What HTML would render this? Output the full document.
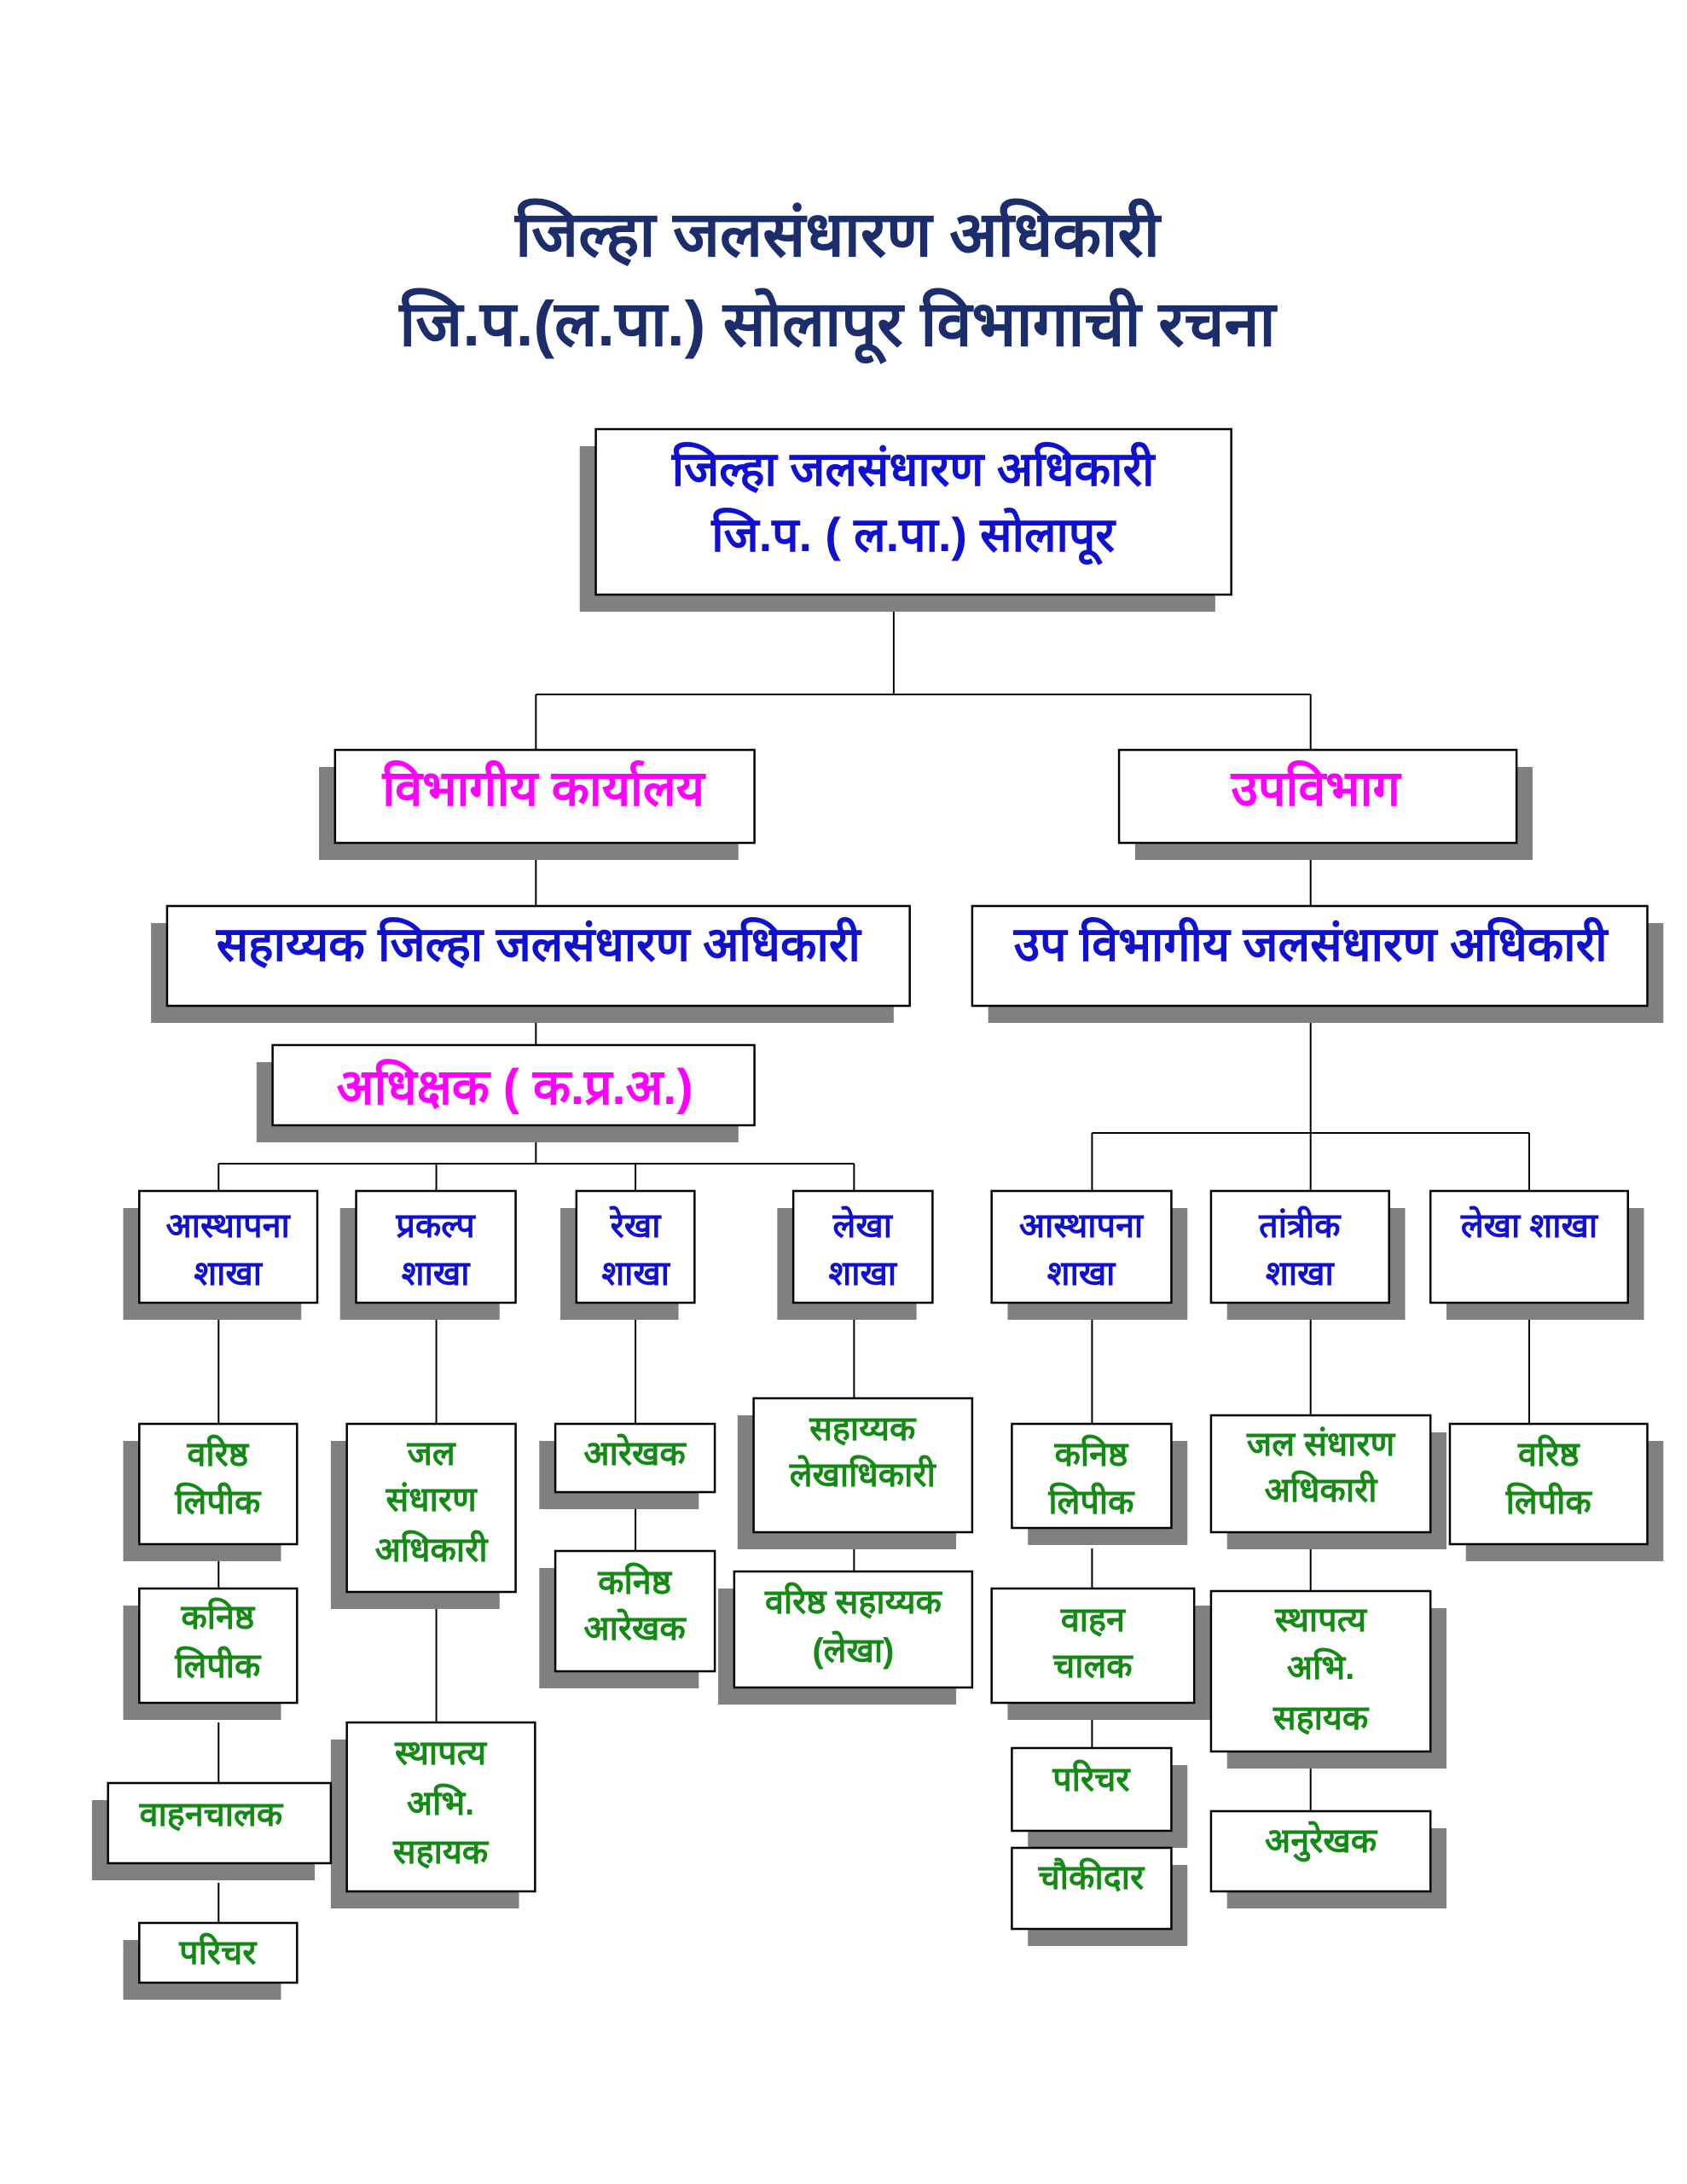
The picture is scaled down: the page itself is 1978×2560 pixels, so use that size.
<!DOCTYPE html>
<html><head><meta charset="utf-8"><style>
html,body{margin:0;padding:0;background:#fff;}
svg{display:block;}
text{font-family:"Liberation Sans",sans-serif;font-weight:bold;text-anchor:middle;}
.b{fill:#1010d0;font-size:56px;}
.m{fill:#ff00ff;font-size:58px;}
.br{fill:#1010d0;font-size:40px;}
.g{fill:#138a13;font-size:40px;}
.t{fill:#1b2d6b;font-size:74px;}
</style></head><body>
<svg width="1978" height="2560" viewBox="0 0 1978 2560" xmlns="http://www.w3.org/2000/svg">
<rect width="1978" height="2560" fill="#fff"/>
<text class="t" x="982" y="300">जिल्हा जलसंधारण अधिकारी</text>
<text class="t" x="982" y="405">जि.प.(ल.पा.) सोलापूर विभागाची रचना</text>
<g transform="matrix(0.9895 0 0 1 0 0)">
<g stroke="#000" stroke-width="2" fill="none">
<path d="M1059 697V814M635 814H1553M635 814V879M1553 814V879M635 988V1062M1553 988V1062M635 1179V1225M635 1319V1364M259 1364H1012M259 1364V1396M517 1364V1396M753 1364V1396M1012 1364V1396M1553 1179V1328M1294 1328H1812M1294 1328V1396M1812 1328V1396M1553 1328V1396"/>
<path d="M259 1527V1669M259 1810V1862M259 2019V2090M259 2207V2254M517 1527V1669M517 1878V2019M753 1527V1669M753 1749V1818M1012 1527V1639M1012 1796V1842M1294 1527V1669M1294 1815V1862M1294 1980V2166M1553 1527V1659M1553 1816V1865M1553 2053V2123M1812 1527V1669"/>
</g>

<g fill="#808080">
<rect x="687" y="523" width="753" height="194"/>
<rect x="378" y="899" width="497" height="109"/>
<rect x="1345" y="899" width="471" height="109"/>
<rect x="179" y="1082" width="880" height="117"/>
<rect x="1171" y="1082" width="800" height="117"/>
<rect x="304" y="1245" width="571" height="94"/>
<rect x="146" y="1416" width="211" height="131"/>
<rect x="403" y="1416" width="189" height="131"/>
<rect x="664" y="1416" width="140" height="131"/>
<rect x="921" y="1416" width="165" height="131"/>
<rect x="1194" y="1416" width="213" height="131"/>
<rect x="1454" y="1416" width="211" height="131"/>
<rect x="1714" y="1416" width="234" height="131"/>
<rect x="146" y="1689" width="187" height="141"/>
<rect x="146" y="1882" width="187" height="134"/>
<rect x="109" y="2110" width="264" height="94"/>
<rect x="146" y="2274" width="187" height="70"/>
<rect x="392" y="1689" width="200" height="197"/>
<rect x="392" y="2039" width="223" height="198"/>
<rect x="639" y="1689" width="189" height="80"/>
<rect x="639" y="1838" width="189" height="141"/>
<rect x="874" y="1659" width="259" height="157"/>
<rect x="851" y="1862" width="282" height="136"/>
<rect x="1218" y="1689" width="189" height="122"/>
<rect x="1194" y="1882" width="240" height="134"/>
<rect x="1218" y="2069" width="189" height="97"/>
<rect x="1218" y="2186" width="189" height="95"/>
<rect x="1454" y="1679" width="260" height="137"/>
<rect x="1454" y="1885" width="260" height="188"/>
<rect x="1454" y="2143" width="260" height="94"/>
<rect x="1737" y="1689" width="234" height="141"/>
</g>

<g fill="#fff" stroke="#000" stroke-width="2.5">
<rect x="706" y="503" width="753" height="194"/>
<rect x="397" y="879" width="497" height="109"/>
<rect x="1326" y="879" width="471" height="109"/>
<rect x="198" y="1062" width="880" height="117"/>
<rect x="1152" y="1062" width="800" height="117"/>
<rect x="323" y="1225" width="571" height="94"/>
<rect x="165" y="1396" width="211" height="131"/>
<rect x="422" y="1396" width="189" height="131"/>
<rect x="683" y="1396" width="140" height="131"/>
<rect x="940" y="1396" width="165" height="131"/>
<rect x="1175" y="1396" width="213" height="131"/>
<rect x="1435" y="1396" width="211" height="131"/>
<rect x="1695" y="1396" width="234" height="131"/>
<rect x="165" y="1669" width="187" height="141"/>
<rect x="165" y="1862" width="187" height="134"/>
<rect x="128" y="2090" width="264" height="94"/>
<rect x="165" y="2254" width="187" height="70"/>
<rect x="411" y="1669" width="200" height="197"/>
<rect x="411" y="2019" width="223" height="198"/>
<rect x="658" y="1669" width="189" height="80"/>
<rect x="658" y="1818" width="189" height="141"/>
<rect x="893" y="1639" width="259" height="157"/>
<rect x="870" y="1842" width="282" height="136"/>
<rect x="1199" y="1669" width="189" height="122"/>
<rect x="1175" y="1862" width="240" height="134"/>
<rect x="1199" y="2049" width="189" height="97"/>
<rect x="1199" y="2166" width="189" height="95"/>
<rect x="1435" y="1659" width="260" height="137"/>
<rect x="1435" y="1865" width="260" height="188"/>
<rect x="1435" y="2123" width="260" height="94"/>
<rect x="1718" y="1669" width="234" height="141"/>
</g>

<text class="b" x="1082" y="569">जिल्हा जलसंधारण अधिकारी</text>
<text class="b" x="1082" y="646">जि.प. ( ल.पा.) सोलापूर</text>
<text class="m" x="644" y="944">विभागीय कार्यालय</text>
<text class="m" x="1559" y="944">उपविभाग</text>
<text class="b" x="638" y="1126">सहाय्यक जिल्हा जलसंधारण अधिकारी</text>
<text class="b" x="1553" y="1126">उप विभागीय जलसंधारण अधिकारी</text>
<text class="m" x="610" y="1294">अधिक्षक ( क.प्र.अ.)</text>

<text class="br" x="270" y="1450">आस्थापना</text><text class="br" x="270" y="1506">शाखा</text>
<text class="br" x="516" y="1450">प्रकल्प</text><text class="br" x="516" y="1506">शाखा</text>
<text class="br" x="753" y="1450">रेखा</text><text class="br" x="753" y="1506">शाखा</text>
<text class="br" x="1022" y="1450">लेखा</text><text class="br" x="1022" y="1506">शाखा</text>
<text class="br" x="1281" y="1450">आस्थापना</text><text class="br" x="1281" y="1506">शाखा</text>
<text class="br" x="1540" y="1450">तांत्रीक</text><text class="br" x="1540" y="1506">शाखा</text>
<text class="br" x="1812" y="1450">लेखा शाखा</text>

<text class="g" x="258" y="1718">वरिष्ठ</text><text class="g" x="258" y="1774">लिपीक</text>
<text class="g" x="258" y="1909">कनिष्ठ</text><text class="g" x="258" y="1966">लिपीक</text>
<text class="g" x="250" y="2140">वाहनचालक</text>
<text class="g" x="258" y="2302">परिचर</text>
<text class="g" x="511" y="1717">जल</text><text class="g" x="511" y="1771">संधारण</text><text class="g" x="511" y="1830">अधिकारी</text>
<text class="g" x="522" y="2068">स्थापत्य</text><text class="g" x="522" y="2127">अभि.</text><text class="g" x="522" y="2184">सहायक</text>
<text class="g" x="752" y="1717">आरेखक</text>
<text class="g" x="752" y="1868">कनिष्ठ</text><text class="g" x="752" y="1922">आरेखक</text>
<text class="g" x="1022" y="1688">सहाय्यक</text><text class="g" x="1022" y="1742">लेखाधिकारी</text>
<text class="g" x="1011" y="1891">वरिष्ठ सहाय्यक</text><text class="g" x="1011" y="1948">(लेखा)</text>
<text class="g" x="1293" y="1718">कनिष्ठ</text><text class="g" x="1293" y="1774">लिपीक</text>
<text class="g" x="1295" y="1912">वाहन</text><text class="g" x="1295" y="1966">चालक</text>
<text class="g" x="1293" y="2099">परिचर</text>
<text class="g" x="1293" y="2214">चौकीदार</text>
<text class="g" x="1565" y="1706">जल संधारण</text><text class="g" x="1565" y="1760">अधिकारी</text>
<text class="g" x="1565" y="1912">स्थापत्य</text><text class="g" x="1565" y="1968">अभि.</text><text class="g" x="1565" y="2027">सहायक</text>
<text class="g" x="1565" y="2171">अनुरेखक</text>
<text class="g" x="1835" y="1718">वरिष्ठ</text><text class="g" x="1835" y="1774">लिपीक</text>
</g>
</svg>
</body></html>
